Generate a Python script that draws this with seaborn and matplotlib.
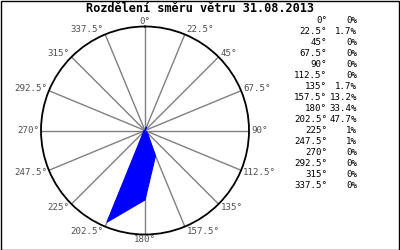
import numpy as np
import matplotlib
matplotlib.use("Agg")
import matplotlib.pyplot as plt
import seaborn as sns
from matplotlib.patches import Rectangle

# ---- data ----
directions = [0, 22.5, 45, 67.5, 90, 112.5, 135, 157.5, 180, 202.5, 225, 247.5, 270, 292.5, 315, 337.5]
percent = [0, 1.7, 0, 0, 0, 0, 1.7, 13.2, 33.4, 47.7, 1, 1, 0, 0, 0, 0]
title = "Rozdělení směru větru 31.08.2013"
r_max = 50

sns.set_style("white")
plt.rcParams['font.family'] = ['DejaVu Sans Mono', 'DejaVu Sans']

W, H = 400, 250
fig = plt.figure(figsize=(W / 100, H / 100), dpi=100)

cx, cy, R = 145, 130.5, 104
ax = fig.add_axes([(cx - R) / W, 1 - (cy + R) / H, 2 * R / W, 2 * R / H], projection='polar')
ax.set_theta_zero_location('N')
ax.set_theta_direction(-1)
ax.set_ylim(0, r_max)
ax.set_yticks([])
ax.set_xticks(np.deg2rad(directions))
ax.set_xticklabels([])
ax.tick_params(length=0)
ax.xaxis.grid(True, color='#808080', lw=1.0)
ax.yaxis.grid(False)
ax.spines['polar'].set_color('black')
ax.spines['polar'].set_linewidth(1.3)
ax.set_facecolor('white')

theta = np.deg2rad(directions + [directions[0]])
rad = percent + [percent[0]]
ax.fill(theta, rad, color='#0000ff', zorder=3, lw=0)
sns.lineplot(x=theta, y=rad, ax=ax, sort=False, color='#0000ff', lw=0.8, zorder=4)

# angle labels around the circle
px = 0.72
for d in directions:
    t = np.deg2rad(d)
    s, c = np.sin(t), np.cos(t)
    lab = f"{d:g}°"
    if d == 0:
        ha, va, dx, dy = 'center', 'bottom', 0, 1
    elif d == 180:
        ha, va, dx, dy = 'center', 'top', 0, -1
    else:
        ha = 'left' if s > 0 else 'right'
        va = 'center'
        dx = 2 * np.sign(s)
        dy = 5 * c
    ax.annotate(lab, xy=(t, r_max), xycoords='data', xytext=(dx * px, dy * px),
                textcoords='offset points', ha=ha, va=va, fontsize=6.6,
                color='#505050', annotation_clip=False)

# table on the right
for i, (d, p) in enumerate(zip(directions, percent)):
    y = 1 - (20.5 + 11 * i) / H
    fig.text(327 / W, y, f"{d:g}°", ha='right', va='center', fontsize=6.6, color='black')
    fig.text(357 / W, y, f"{p:g}%", ha='right', va='center', fontsize=6.6, color='black')

fig.text(0.5, 1 - 8.5 / H, title, ha='center', va='center', fontsize=8.6,
         fontweight='bold', color='black')

fig.patches.append(Rectangle((0.5 / W, 0.5 / H), 1 - 1.5 / W, 1 - 1.5 / H,
                             transform=fig.transFigure, fill=False,
                             edgecolor='black', lw=1.0))

fig.savefig("out.png", dpi=100)
